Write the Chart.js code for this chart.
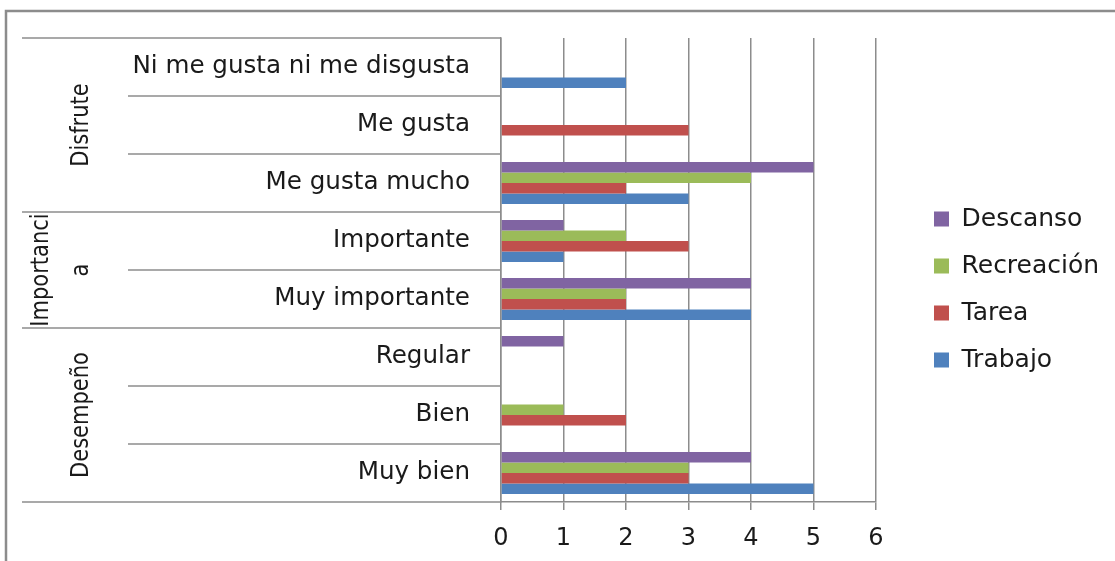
<!DOCTYPE html>
<html>
<head>
<meta charset="utf-8">
<script src="https://cdn.jsdelivr.net/npm/chart.js@4.4.0/dist/chart.umd.min.js"></script>
<style>
  html, body { margin: 0; padding: 0; background: #fff; }
  #wrap { width: 1115px; height: 561px; }
</style>
</head>
<body>
<div id="wrap"><canvas id="myChart" width="1115" height="561"></canvas></div>
<script>
var categories = ["Ni me gusta ni me disgusta", "Me gusta", "Me gusta mucho", "Importante", "Muy importante", "Regular", "Bien", "Muy bien"];
var seriesNames = ["Descanso", "Recreación", "Tarea", "Trabajo"];
var descanso = [0, 0, 5, 1, 4, 1, 0, 4];
var recreacion = [0, 0, 4, 2, 2, 0, 1, 3];
var tarea = [0, 3, 2, 3, 2, 0, 2, 3];
var trabajo = [2, 0, 3, 1, 4, 0, 0, 5];
var xMin = 0, xMax = 6, xStep = 1;
var groupLabels = [["Disfrute"], ["Importanci", "a"], ["Desempeño"]];
var groupSizes = [3, 2, 3];

var family = "'DejaVu Sans', sans-serif";
var textColor = "#1a1a1a";
var grey = "#8c8c8c";
var legendSize = 25;
var legendPad = 22;

// right padding so the legend starts at x=912 (boxes at 934)
var tmp = document.createElement("canvas").getContext("2d");
tmp.font = legendSize + "px " + family;
var longest = 0;
seriesNames.forEach(function (n) {
  longest = Math.max(longest, tmp.measureText(n).width);
});
var legendWidth = legendPad + 15 + legendSize / 2 + longest + 10;
var rightPad = Math.max(1115 - 912 - legendWidth, 0);

// row lines, frame and rotated group names in the label area
var tablePlugin = {
  id: "tableLines",
  beforeDraw: function (chart) {
    var ctx = chart.ctx;
    var y = chart.scales.y;
    var area = chart.chartArea;
    ctx.save();
    ctx.strokeStyle = grey;
    ctx.lineWidth = 2.5;
    ctx.beginPath();
    ctx.moveTo(6, 561);
    ctx.lineTo(6, 11);
    ctx.lineTo(1115, 11);
    ctx.stroke();

    var step = y.getPixelForValue(1) - y.getPixelForValue(0);
    var edges = [];
    for (var i = 0; i <= categories.length; i++) {
      edges.push(y.getPixelForValue(i) - step / 2);
    }
    var groupEdge = { 0: true };
    var acc = 0;
    groupSizes.forEach(function (n) {
      acc += n;
      groupEdge[acc] = true;
    });
    ctx.lineWidth = 1.5;
    edges.forEach(function (py, i) {
      ctx.beginPath();
      ctx.moveTo(groupEdge[i] ? 22 : 128, py);
      ctx.lineTo(area.left, py);
      ctx.stroke();
    });

    ctx.fillStyle = textColor;
    ctx.font = "21px " + family;
    ctx.textAlign = "center";
    ctx.textBaseline = "middle";
    var start = 0;
    groupLabels.forEach(function (lines, g) {
      var mid = (edges[start] + edges[start + groupSizes[g]]) / 2;
      lines.forEach(function (t, k) {
        var x = 82 - 40 * (lines.length - 1 - k);
        ctx.save();
        ctx.translate(x, mid);
        ctx.rotate(-Math.PI / 2);
        ctx.scale(1, 1.18); // the picture is a bit wider than tall
        ctx.fillText(t, 0, 0);
        ctx.restore();
      });
      start += groupSizes[g];
    });
    ctx.restore();
  },
};

var chart = document.getElementById("myChart").getContext("2d");
var myChart = new Chart(chart, {
  type: "bar",
  data: {
    labels: categories,
    datasets: [
      { label: seriesNames[0], data: descanso, backgroundColor: "#8064A2" },
      { label: seriesNames[1], data: recreacion, backgroundColor: "#9BBB59" },
      { label: seriesNames[2], data: tarea, backgroundColor: "#C0504D" },
      { label: seriesNames[3], data: trabajo, backgroundColor: "#4F81BD" },
    ],
  },
  options: {
    indexAxis: "y",
    responsive: false,
    animation: false,
    layout: { padding: { top: 18, bottom: 0, left: 0, right: rightPad } },
    datasets: { bar: { categoryPercentage: 0.72, barPercentage: 1, borderWidth: 0 } },
    scales: {
      x: {
        min: xMin,
        max: xMax,
        ticks: { stepSize: xStep, padding: 14, color: textColor, font: { family: family, size: 24 } },
        grid: { color: grey, lineWidth: 1.5, tickLength: 8 },
        border: { color: grey, width: 1.5 },
        afterFit: function (s) { s.height = 59; },
      },
      y: {
        ticks: { padding: 31, color: textColor, font: { family: family, size: 24.6 } },
        grid: { drawOnChartArea: false, drawTicks: false },
        border: { color: grey, width: 1.5 },
        afterFit: function (s) {
          s.width = 501;
          s.paddingTop = 38;
          s.paddingBottom = 0;
        },
      },
      gap: {
        type: "linear",
        position: "right",
        ticks: { display: false },
        grid: { display: false },
        border: { display: false },
        afterFit: function (s) {
          s.width = 36;
          s.paddingTop = 0;
          s.paddingBottom = 0;
        },
      },
    },
    plugins: {
      legend: {
        position: "right",
        maxWidth: 400,
        labels: { boxWidth: 15, boxHeight: 15, padding: legendPad, color: textColor, font: { family: family, size: legendSize } },
      },
      tooltip: { enabled: false },
    },
  },
  plugins: [tablePlugin],
});
</script>
</body>
</html>
